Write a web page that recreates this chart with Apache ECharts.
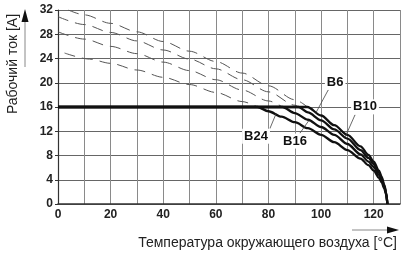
<!DOCTYPE html>
<html><head><meta charset="utf-8">
<script src="https://cdn.jsdelivr.net/npm/echarts@6/dist/echarts.min.js"></script>
<style>html,body{margin:0;padding:0;background:#fff}#c{width:408px;height:256px}</style>
</head><body><div id="c"></div>
<script>
// ---- data ----
const xTicks = [0, 20, 40, 60, 80, 100, 120];
const yTicks = [0, 4, 8, 12, 16, 20, 24, 28, 32];
const names = ['B6', 'B10', 'B16', 'B24'];

// dashed (extrapolated) parts
const b6DashT  = [3.9, 10, 20, 30, 40, 50, 60, 70, 80, 90, 94.8];
const b6DashI  = [32.0, 31.2, 29.8, 28.4, 26.8, 25.2, 23.5, 21.6, 19.5, 17.2, 16.0];
const b10DashT = [0, 10, 20, 30, 40, 50, 60, 70, 80, 90, 91.4];
const b10DashI = [30.9, 29.6, 28.3, 26.9, 25.4, 23.9, 22.3, 20.5, 18.5, 16.3, 16.0];
const b16DashT = [0, 10, 20, 30, 40, 50, 60, 70, 80, 85.3];
const b16DashI = [28.4, 27.2, 26.0, 24.8, 23.4, 22.0, 20.5, 18.8, 17.0, 16.0];
const b24DashT = [2.5, 12, 20, 30, 40, 50, 60, 70, 75.8];
const b24DashI = [24.9, 23.9, 23.2, 22.1, 20.9, 19.7, 18.4, 16.9, 16.0];

// solid (rated) parts
const b6T  = [0, 94.8, 100, 105, 110, 115, 118, 120, 122, 123, 124, 124.7, 125.2];
const b6I  = [16, 16, 14.6, 13.0, 11.4, 9.5, 8.1, 7.0, 5.5, 4.5, 3.2, 2.0, 0];
const b10T = [0, 91.4, 95, 100, 105, 110, 115, 118, 120, 122, 123, 124, 124.7, 125.2];
const b10I = [16, 16, 15.1, 13.8, 12.3, 10.8, 8.9, 7.6, 6.6, 5.2, 4.3, 3.0, 1.9, 0];
const b16T = [0, 85.3, 90, 95, 100, 105, 110, 115, 118, 120, 122, 123, 124, 124.7, 125.2];
const b16I = [16, 16, 15.0, 13.9, 12.7, 11.4, 9.9, 8.2, 7.0, 6.1, 4.8, 4.0, 2.8, 1.8, 0];
const b24T = [0, 75.8, 80, 85, 90, 95, 100, 105, 110, 115, 118, 120, 122, 123, 124, 124.7, 125.2];
const b24I = [16, 16, 15.3, 14.4, 13.5, 12.5, 11.4, 10.2, 8.9, 7.5, 6.4, 5.5, 4.3, 3.6, 2.6, 1.6, 0];

// label pointers: point on curve -> anchor near label
const ptrCurveT  = [98.1, 109.1, 95.4, 82.9];
const ptrCurveI  = [15.1, 11.0, 13.8, 14.9];
const ptrAnchorT = [102.7, 112.9, 92.0, 80.6];
const ptrAnchorI = [18.8, 14.7, 11.7, 12.5];

const yTitle = 'Рабочий ток [A]';
const xTitle = 'Температура окружающего воздуха [°C]';

// ---- build ----
const zip = (a, b) => a.map((v, i) => [v, b[i]]);
const FONT = '"Liberation Sans", Arial, sans-serif';
const dashSets = [[b6DashT, b6DashI], [b10DashT, b10DashI], [b16DashT, b16DashI], [b24DashT, b24DashI]];
const solidSets = [[b6T, b6I], [b10T, b10I], [b16T, b16I], [b24T, b24I]];
const labelOffsets = [[7, -8], [10, -8], [-5, 8], [-14, 8]];

const series = [];
dashSets.forEach((s, i) => series.push({
  name: names[i] + ' dashed', type: 'line', data: zip(s[0], s[1]), smooth: 0.3, smoothMonotone: 'x',
  showSymbol: false, symbol: 'none', silent: true, z: 3,
  lineStyle: { color: '#555', width: 1, type: [11, 7] }
}));
solidSets.forEach((s, i) => series.push({
  name: names[i], type: 'line', data: zip(s[0], s[1]), smooth: 0.3, smoothMonotone: 'x',
  showSymbol: false, symbol: 'none', silent: true, z: 4,
  lineStyle: { color: '#111', width: 2.3 }
}));
names.forEach((n, i) => series.push({
  name: n + ' label', type: 'line', silent: true, z: 6,
  symbol: 'circle', symbolSize: 0.5, itemStyle: { color: '#333' },
  lineStyle: { color: '#444', width: 0.8 },
  data: [
    { value: [ptrCurveT[i], ptrCurveI[i]] },
    { value: [ptrAnchorT[i], ptrAnchorI[i]],
      label: { show: true, formatter: n, position: 'inside', offset: labelOffsets[i],
        fontFamily: FONT, fontWeight: 'bold', fontSize: 13, color: '#111',
        backgroundColor: '#fff', padding: [1, 2] } }
  ]
}));

const chart = echarts.init(document.getElementById('c'), null, { renderer: 'canvas' });
chart.setOption({
  animation: false,
  backgroundColor: '#fff',
  grid: { left: 58, right: 8, top: 10, bottom: 52 },
  xAxis: {
    type: 'value', min: 0, max: 130, interval: 10,
    axisLine: { show: true, lineStyle: { color: '#333', width: 1.5 } },
    axisTick: { show: false },
    axisLabel: { margin: 5, fontFamily: FONT, fontWeight: 'bold', fontSize: 12, color: '#222',
      formatter: v => xTicks.includes(v) ? String(v) : '' },
    splitLine: { show: true, lineStyle: { color: '#8a8a8a', width: 1 } }
  },
  yAxis: {
    type: 'value', min: 0, max: 32, interval: 4,
    axisLine: { show: true, lineStyle: { color: '#333', width: 1.2 } },
    axisTick: { show: true, length: 3, lineStyle: { color: '#333' } },
    axisLabel: { margin: 5, fontFamily: FONT, fontWeight: 'bold', fontSize: 12, color: '#222',
      formatter: v => yTicks.includes(v) ? String(v) : '' },
    splitLine: { show: true, lineStyle: { color: '#666', width: 1 } }
  },
  graphic: [
    { type: 'text', x: 13, y: 64, rotation: Math.PI / 2,
      style: { text: yTitle, font: '14px ' + FONT, fill: '#222', align: 'center', verticalAlign: 'middle' } },
    { type: 'line', shape: { x1: 25, y1: 67, x2: 25, y2: 18 }, style: { stroke: '#888', lineWidth: 1 } },
    { type: 'polygon', shape: { points: [[25, 9], [21.5, 22], [28.5, 22]] }, style: { fill: '#111' } },
    { type: 'text', x: 397, y: 243,
      style: { text: xTitle, font: '14px ' + FONT, fill: '#222', align: 'right', verticalAlign: 'middle' } },
    { type: 'line', shape: { x1: 352, y1: 230, x2: 390, y2: 230 }, style: { stroke: '#888', lineWidth: 1 } },
    { type: 'polygon', shape: { points: [[399, 230], [387, 226.5], [387, 233.5]] }, style: { fill: '#111' } }
  ],
  series: series
});
</script></body></html>
